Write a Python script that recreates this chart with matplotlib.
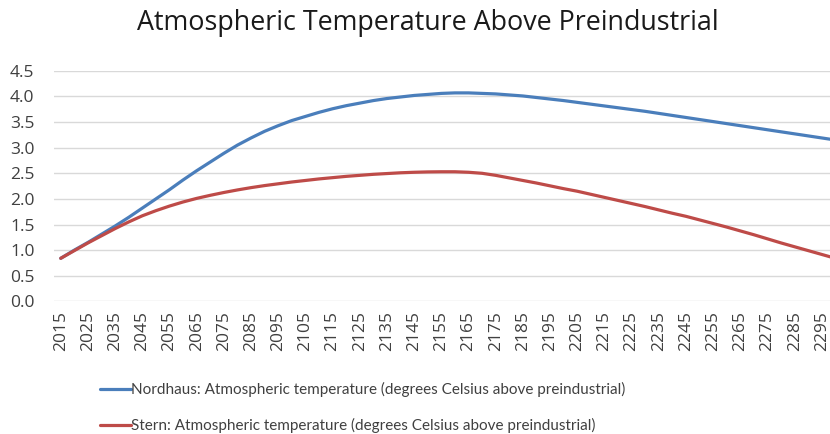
import matplotlib.pyplot as plt
import numpy as np

plt.rcParams['font.family'] = ['Open Sans', 'DejaVu Sans']

years = list(range(2015, 2305, 5))
nordhaus = [0.84, 1.00, 1.15, 1.31, 1.47, 1.64, 1.82, 2.00, 2.18, 2.37,
            2.55, 2.72, 2.89, 3.05, 3.19, 3.32, 3.43, 3.53, 3.61, 3.69,
            3.76, 3.82, 3.87, 3.92, 3.96, 3.99, 4.02, 4.04, 4.06, 4.07,
            4.07, 4.06, 4.05, 4.03, 4.01, 3.98, 3.95, 3.92, 3.885, 3.85,
            3.815, 3.78, 3.745, 3.71, 3.67, 3.63, 3.59, 3.55, 3.51, 3.47,
            3.43, 3.39, 3.35, 3.31, 3.27, 3.23, 3.19, 3.15]
stern = [0.84, 0.99, 1.14, 1.28, 1.42, 1.55, 1.67, 1.77, 1.86, 1.94,
         2.01, 2.07, 2.125, 2.175, 2.22, 2.26, 2.295, 2.33, 2.36, 2.39,
         2.415, 2.44, 2.46, 2.48, 2.495, 2.51, 2.52, 2.527, 2.53, 2.53,
         2.52, 2.50, 2.46, 2.41, 2.36, 2.31, 2.255, 2.20, 2.15, 2.09,
         2.03, 1.97, 1.91, 1.85, 1.785, 1.72, 1.66, 1.59, 1.52, 1.45,
         1.375, 1.30, 1.22, 1.14, 1.065, 0.99, 0.915, 0.84]
tick_years = list(range(2015, 2300, 10))
y_ticks = [0.0, 0.5, 1.0, 1.5, 2.0, 2.5, 3.0, 3.5, 4.0, 4.5]

fig = plt.figure(figsize=(8.3, 4.34), dpi=100)
ax = fig.add_axes([0.065, 0.3057, 0.935, 0.531])

ax.plot(years, nordhaus, color='#4A7EBB', lw=2.3, solid_capstyle='round',
        label='Nordhaus: Atmospheric temperature (degrees Celsius above preindustrial)')
ax.plot(years, stern, color='#BE4B48', lw=2.3, solid_capstyle='round',
        label='Stern: Atmospheric temperature (degrees Celsius above preindustrial)')

ax.set_xlim(2012.5, 2298)
ax.set_ylim(0, 4.5)
ax.set_yticks(y_ticks)
ax.set_yticklabels([f'{v:.1f}' for v in y_ticks], fontsize=12.5, color='#404040')
ax.set_xticks(tick_years)
ax.set_xticklabels([str(y) for y in tick_years], rotation=90, fontsize=12.5, color='#404040')
ax.tick_params(axis='x', length=0, pad=7)
ax.tick_params(axis='y', length=0, pad=14)
ax.grid(axis='y', color='#D9D9D9', lw=1)
ax.set_axisbelow(True)
for s in ax.spines.values():
    s.set_visible(False)

fig.suptitle('Atmospheric Temperature Above Preindustrial', x=0.515, y=0.98,
             fontsize=19.4, color='#1a1a1a')

fig.legend(loc='upper left', bbox_to_anchor=(0.104, 0.151), frameon=False,
           prop={'family': ['Lato', 'Open Sans'], 'size': 11},
           handlelength=2.0, handletextpad=0.05, labelspacing=1.38,
           labelcolor='#404040')

fig.savefig('out.png', dpi=100)
